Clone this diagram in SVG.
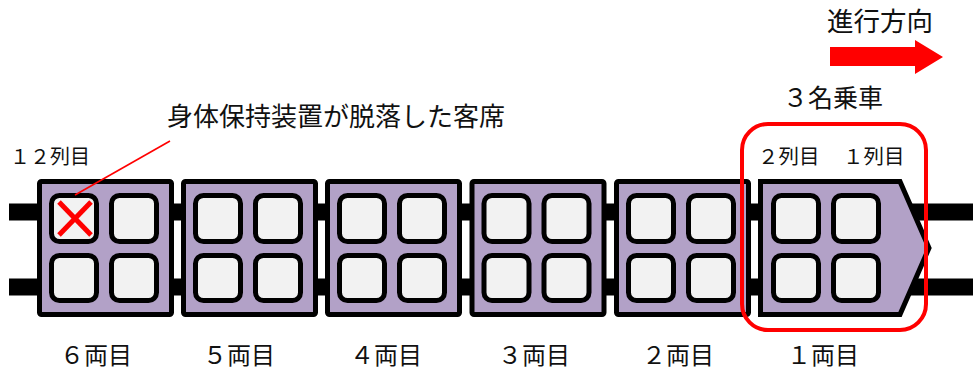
<svg xmlns="http://www.w3.org/2000/svg" xmlns:xlink="http://www.w3.org/1999/xlink" width="973" height="371" viewBox="0 0 973 371">
<style>
.car{fill:#b2a1c7;stroke:#000;stroke-width:5;stroke-linejoin:miter}
.seat{fill:#f2f2f2;stroke:#000;stroke-width:5}
.rail{stroke:#000;fill:none}
.t{font-family:"Noto Sans CJK JP","Noto Sans",sans-serif;fill:#111}
.red{stroke:#ff0000;fill:none}
</style>
<defs>
<g id="seats">
<rect class="seat" x="14.5" y="195.5" width="45" height="46" rx="8"/>
<rect class="seat" x="74.5" y="195.5" width="45" height="46" rx="8"/>
<rect class="seat" x="14.5" y="255.5" width="45" height="45" rx="8"/>
<rect class="seat" x="74.5" y="255.5" width="45" height="45" rx="8"/>
</g>
</defs>
<rect width="973" height="371" fill="#fff"/>
<g id="rails">
<line class="rail" x1="9" y1="212" x2="973" y2="212" stroke-width="17"/>
<line class="rail" x1="9" y1="287" x2="973" y2="287" stroke-width="17"/>
</g>
<g id="car6">
<rect class="car" x="39.5" y="181.5" width="132" height="133" rx="2"/>
<use xlink:href="#seats" x="37"/>
</g>
<g id="car5">
<rect class="car" x="183.5" y="181.5" width="132" height="133" rx="2"/>
<use xlink:href="#seats" x="181"/>
</g>
<g id="car4">
<rect class="car" x="327.5" y="181.5" width="132" height="133" rx="2"/>
<use xlink:href="#seats" x="325"/>
</g>
<g id="car3">
<rect class="car" x="472" y="181.5" width="132" height="133" rx="2"/>
<use xlink:href="#seats" x="469.5"/>
</g>
<g id="car2">
<rect class="car" x="616.5" y="181.5" width="132" height="133" rx="2"/>
<use xlink:href="#seats" x="614"/>
</g>
<g id="car1">
<path class="car" d="M760.5,181.5 H900 L929,248 L900,314.5 H760.5 Z"/>
<use xlink:href="#seats" x="759"/>
</g>
<g id="x-mark">
<line class="red" x1="59" y1="202" x2="91" y2="235" stroke-width="5"/>
<line class="red" x1="91" y1="202" x2="59" y2="235" stroke-width="5"/>
</g>
<g id="connectors">
<line class="red" x1="170" y1="141" x2="75" y2="195" stroke-width="1.6"/>
</g>
<g id="highlight">
<rect class="red" x="742" y="124" width="184" height="206" rx="26" stroke-width="4"/>
</g>
<g id="direction">
<path d="M830,47 H915 V40 L943,57 L915,74 V66 H830 Z" fill="#ff0000"/>
<text class="t" x="827" y="31" font-size="26.5">進行方向</text>
</g>
<g id="labels">
<text class="t" x="783" y="107" font-size="25">３名乗車</text>
<text class="t" x="167" y="126" font-size="26">身体保持装置が脱落した客席</text>
<text class="t" x="10" y="164" font-size="20">１２列目</text>
<text class="t" x="758" y="164" font-size="20.5">２列目</text>
<text class="t" x="843" y="164" font-size="20.5">１列目</text>
<text class="t" x="60" y="364" font-size="24">６両目</text>
<text class="t" x="203" y="364" font-size="24">５両目</text>
<text class="t" x="350" y="364" font-size="24">４両目</text>
<text class="t" x="498" y="364" font-size="24">３両目</text>
<text class="t" x="642" y="364" font-size="24">２両目</text>
<text class="t" x="787" y="364" font-size="24">１両目</text>
</g>
</svg>
